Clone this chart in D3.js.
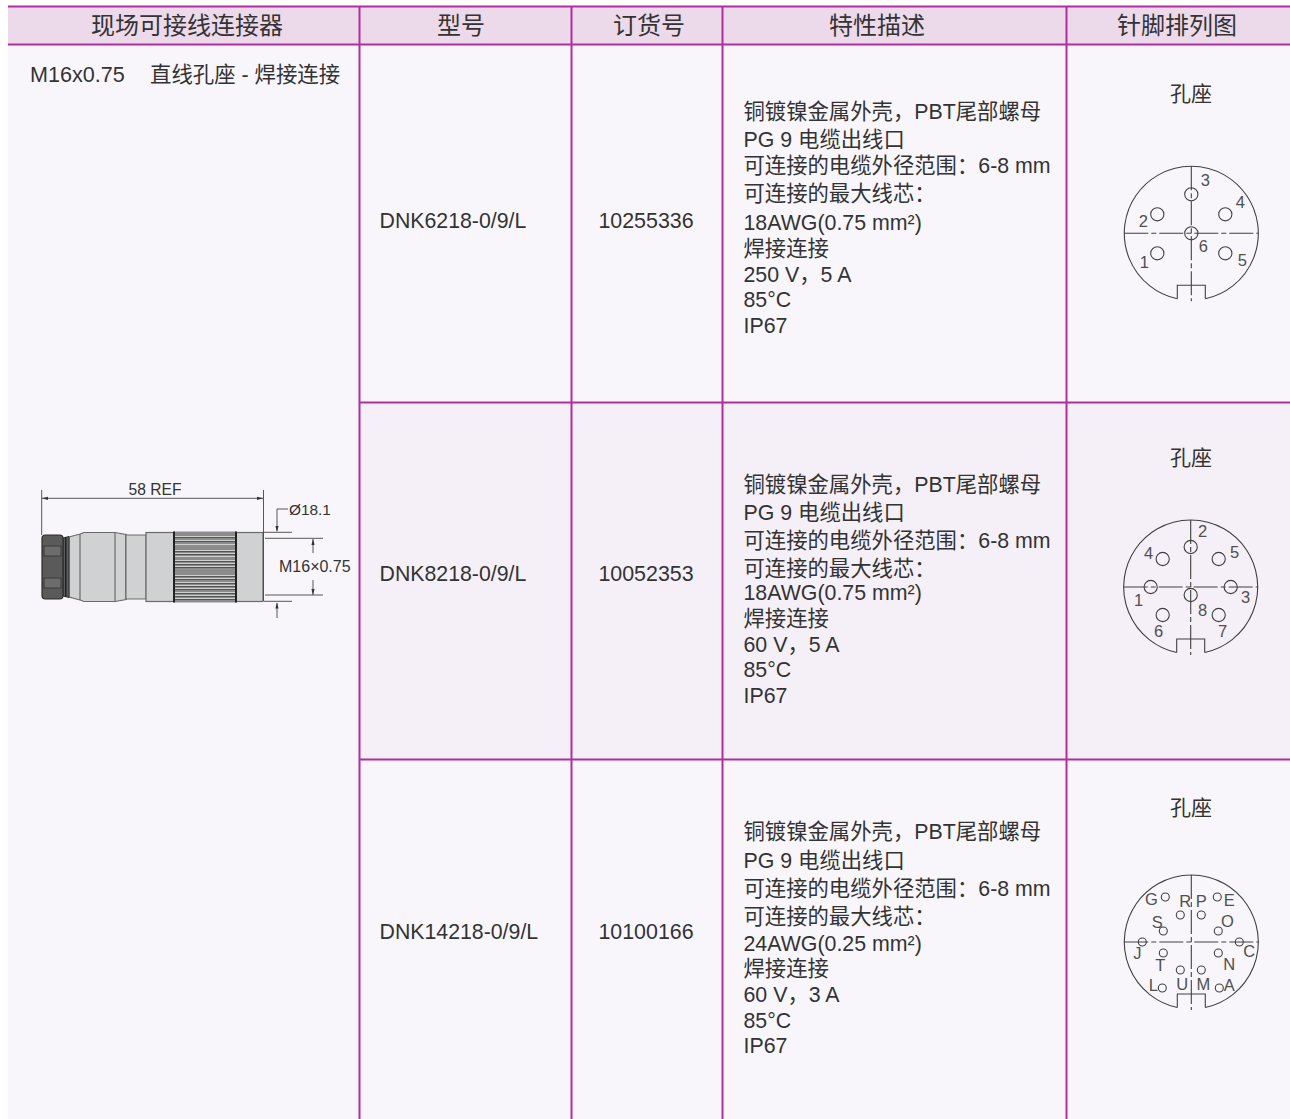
<!DOCTYPE html>
<html><head><meta charset="utf-8">
<script src="https://d3js.org/d3.v7.min.js"></script>
<style>html,body{margin:0;padding:0;background:#fff}svg{display:block}
text{font-family:"Liberation Sans","Noto Sans CJK SC",sans-serif;fill:#333}</style></head><body>
<div id="c"></div>
<script>
const headers=["现场可接线连接器","型号","订货号","特性描述","针脚排列图"];
const models=["DNK6218-0/9/L","DNK8218-0/9/L","DNK14218-0/9/L"];
const orders=["10255336","10052353","10100166"];
const desc1=["铜镀镍金属外壳，PBT尾部螺母","PG 9 电缆出线口","可连接的电缆外径范围：6-8 mm","可连接的最大线芯：","18AWG(0.75 mm²)","焊接连接","250 V，5 A","85°C","IP67"];
const desc2=["铜镀镍金属外壳，PBT尾部螺母","PG 9 电缆出线口","可连接的电缆外径范围：6-8 mm","可连接的最大线芯：","18AWG(0.75 mm²)","焊接连接","60 V，5 A","85°C","IP67"];
const desc3=["铜镀镍金属外壳，PBT尾部螺母","PG 9 电缆出线口","可连接的电缆外径范围：6-8 mm","可连接的最大线芯：","24AWG(0.25 mm²)","焊接连接","60 V，3 A","85°C","IP67"];
const descY1=[112,140,166,194,223,249,275,300,326];
const descY2=[485,513,541,569,593,619,645,670,696];
const descY3=[832,861,889,917,944,969,995,1021,1046];
const pins1=[["3",0,-39],["2",-34,-19],["4",34,-19],["1",-34,20],["5",34,20],["6",0,0]];
const labels1=[["3",14,-53],["4",49,-31],["2",-48,-12],["6",12,13],["1",-47,29],["5",51,27]];
const pins2=[["2",0,-40],["4",-28,-28],["5",28,-28],["1",-40,0],["3",40,0],["8",0,8],["6",-28,28],["7",28,28]];
const labels2=[["2",12,-55],["4",-42,-33],["5",44,-34],["1",-52,14],["3",55,11],["8",12,24],["6",-32,45],["7",32,45]];
const pins3=[["G",-26,-45],["E",26,-45],["R",-11,-27],["P",10,-27],["S",-28,-11],["O",27,-11],["J",-49,0],["C",48,0],["T",-28,11],["N",27,11],["U",-11,28],["M",10,28],["L",-29,46],["A",28,46]];
const labels3=[["G",-40,-42],["R",-6,-40],["P",10,-40],["E",38,-41],["S",-34,-19],["O",36,-20],["J",-54,12],["C",58,10],["T",-31,24],["N",38,23],["L",-38,44],["U",-9,43],["M",12,43],["A",38,44]];
const knurlLight=[536,540,544,550,553,556,560,563,566,575,578,582,585,588,592,595,598];
const knurlDark=[537,541,551,554,561,564,567,576,579,583,586,589,593,596,599];

const W=1290,H=1119;
const purple="#b02ea0",ink="#404040";
const svg=d3.select("#c").append("svg").attr("width",W).attr("height",H);

svg.append("rect").attr("x",8).attr("y",7).attr("width",1282).attr("height",38).attr("fill","#ecd9ea");
svg.append("rect").attr("x",8).attr("y",45).attr("width",1282).attr("height",1074).attr("fill","#f8f6fb");
svg.append("rect").attr("x",360).attr("y",403).attr("width",930).attr("height",357).attr("fill","#f5eff7");

const hl=svg.append("g").attr("stroke",purple).attr("stroke-width",2);
hl.append("line").attr("x1",8).attr("x2",1290).attr("y1",6.5).attr("y2",6.5);
hl.append("line").attr("x1",8).attr("x2",1290).attr("y1",44.5).attr("y2",44.5);
[402.5,759.5].forEach(v=>hl.append("line").attr("x1",360).attr("x2",1290).attr("y1",v).attr("y2",v));
[359.5,571.5,722.5,1066.5].forEach(v=>hl.append("line").attr("x1",v).attr("x2",v).attr("y1",6).attr("y2",1119));

const hc=[187,461,649,877,1177];
headers.forEach((h,i)=>svg.append("text").attr("x",hc[i]).attr("y",34).attr("text-anchor","middle").attr("font-size",24).text(h));

svg.append("text").attr("x",30).attr("y",82).attr("font-size",21.6).text("M16x0.75");
svg.append("text").attr("x",150).attr("y",82).attr("font-size",21.4).text("直线孔座 - 焊接连接");

const modelY=[228,581,939];
models.forEach((m,i)=>{
 svg.append("text").attr("x",379.5).attr("y",modelY[i]).attr("font-size",21.3).text(m);
 svg.append("text").attr("x",646).attr("y",modelY[i]).attr("text-anchor","middle").attr("font-size",21.4).text(orders[i]);
});
[[desc1,descY1],[desc2,descY2],[desc3,descY3]].forEach(([d,ys])=>{
 d.forEach((t,i)=>svg.append("text").attr("x",743.5).attr("y",ys[i]+7).attr("font-size",21.35).text(t));
});

function diagram(cx,cy,titleY,pins,labels,pr,fs){
 const sx=d3.scaleLinear().domain([-67,67]).range([cx-67,cx+67]);
 const sy=d3.scaleLinear().domain([-67,67]).range([cy-67,cy+67]);
 svg.append("text").attr("x",1191).attr("y",titleY).attr("text-anchor","middle").attr("font-size",21).text("孔座");
 const g=svg.append("g").attr("fill","none").attr("stroke",ink).attr("stroke-width",1.1);
 const a=Math.asin(14/67);
 const p=d3.path();
 p.moveTo(sx(-14),sy(65.5));p.lineTo(sx(-14),sy(52));p.lineTo(sx(14),sy(52));p.lineTo(sx(14),sy(65.5));
 g.append("path").attr("d",p.toString());
 const p2=d3.path();
 p2.arc(cx,cy,67,Math.PI/2-a,Math.PI/2+a,true);
 g.append("path").attr("d",p2.toString());
 g.append("line").attr("x1",sx(-67)).attr("x2",sx(67)).attr("y1",sy(0)).attr("y2",sy(0)).attr("stroke-dasharray","24 3 5 3");
 g.append("line").attr("y1",sy(-67)).attr("y2",sy(68)).attr("x1",sx(0)).attr("x2",sx(0)).attr("stroke-dasharray","24 3 5 3");
 g.selectAll("circle").data(pins).join("circle").attr("cx",d=>sx(d[1])).attr("cy",d=>sy(d[2])).attr("r",pr);
 svg.append("g").selectAll("text").data(labels).join("text").attr("x",d=>sx(d[1])).attr("y",d=>sy(d[2])).attr("dy","0.32em").attr("text-anchor","middle").attr("font-size",fs).style("fill","#505050").text(d=>d[0]);
}
diagram(1191.3,233.3,101,pins1,labels1,6.6,16.5);
diagram(1190.7,587,465,pins2,labels2,6.6,16.5);
diagram(1191.3,942,815,pins3,labels3,4,16.5);

// connector drawing
const dg=svg.append("g");
const outline="#6a6a6a",metal="#d0d1d2";
dg.append("path").attr("d","M69,537L80,534L84,532.5H115L126,534.5V599.5L115,601.5H84L80,600L69,597Z").attr("fill",metal).attr("stroke",outline).attr("stroke-width",1.2);
[[80,534,600],[115,532.5,601.5],[126,534.5,599.5]].forEach(l=>dg.append("line").attr("x1",l[0]).attr("x2",l[0]).attr("y1",l[1]).attr("y2",l[2]).attr("stroke",outline).attr("stroke-width",1.2));
dg.append("rect").attr("x",126).attr("y",535).attr("width",20).attr("height",64).attr("fill",metal).attr("stroke",outline);
dg.append("rect").attr("x",146).attr("y",532.5).attr("width",28).attr("height",69).attr("fill",metal).attr("stroke",outline).attr("stroke-width",1.2);
dg.append("rect").attr("x",236).attr("y",532.5).attr("width",27).attr("height",69).attr("fill",metal).attr("stroke",outline).attr("stroke-width",1.2);
dg.append("rect").attr("x",174).attr("y",531.5).attr("width",62).attr("height",71).attr("fill","#8c8c8c");
knurlDark.forEach(v=>dg.append("line").attr("x1",174).attr("x2",236).attr("y1",v+.5).attr("y2",v+.5).attr("stroke","#555").attr("stroke-width",1));
knurlLight.forEach(v=>dg.append("line").attr("x1",174).attr("x2",236).attr("y1",v+.5).attr("y2",v+.5).attr("stroke","#cfcfcf").attr("stroke-width",1));
[[174,531.5,602.5],[236,531.5,602.5]].forEach(l=>dg.append("line").attr("x1",l[0]).attr("x2",l[0]).attr("y1",l[1]).attr("y2",l[2]).attr("stroke","#222").attr("stroke-width",2));
dg.append("path").attr("d","M63,538L69,536.5V597.5L63,596Z").attr("fill","#5c5c5c").attr("stroke","#333");
dg.append("rect").attr("x",65).attr("y",537).attr("width",1.5).attr("height",60).attr("fill","#222");
dg.append("rect").attr("x",42).attr("y",535).attr("width",21).attr("height",64).attr("rx",3.5).attr("fill","#5a5a5a").attr("stroke","#2a2a2a").attr("stroke-width",1.2);
dg.append("rect").attr("x",44).attr("y",546).attr("width",17).attr("height",10).attr("fill","#6c6c6c").attr("stroke","#3a3a3a");
dg.append("rect").attr("x",44).attr("y",578).attr("width",17).attr("height",10).attr("fill","#6c6c6c").attr("stroke","#3a3a3a");

const dim=svg.append("g").attr("stroke","#444").attr("stroke-width",0.9).attr("fill","none");
[[41.7,41.7,490,535],[263.5,263.5,490,601],[42,263,498.3,498.3],[264,292,532.3,532.3],[265,323,538.3,538.3],[265,323,595,595],[264,292,601.3,601.3],[313,313,539,553],[313,313,580,595],[277,277,509,531],[277,288,509,509],[277,277,603,618]].forEach(l=>dim.append("line").attr("x1",l[0]).attr("x2",l[1]).attr("y1",l[2]).attr("y2",l[3]));
[[42,498.3,-1,0],[263,498.3,1,0],[277,532,0,1],[277,602.5,0,-1],[313,539,0,-1],[313,595,0,1]].forEach(a=>{
 const [tx,ty,dx,dy]=a, len=6, w=1.6;
 const t=d3.path();
 t.moveTo(tx,ty);
 t.lineTo(tx-dx*len+dy*w,ty-dy*len+dx*w);
 t.lineTo(tx-dx*len-dy*w,ty-dy*len-dx*w);
 t.closePath();
 svg.append("path").attr("d",t.toString()).attr("fill","#333");
});
svg.append("text").attr("x",155).attr("y",495).attr("text-anchor","middle").attr("font-size",15.6).text("58 REF");
svg.append("text").attr("x",289).attr("y",515).attr("font-size",15.4).text("Ø18.1");
svg.append("text").attr("x",279).attr("y",572).attr("font-size",16).text("M16×0.75");
</script></body></html>
